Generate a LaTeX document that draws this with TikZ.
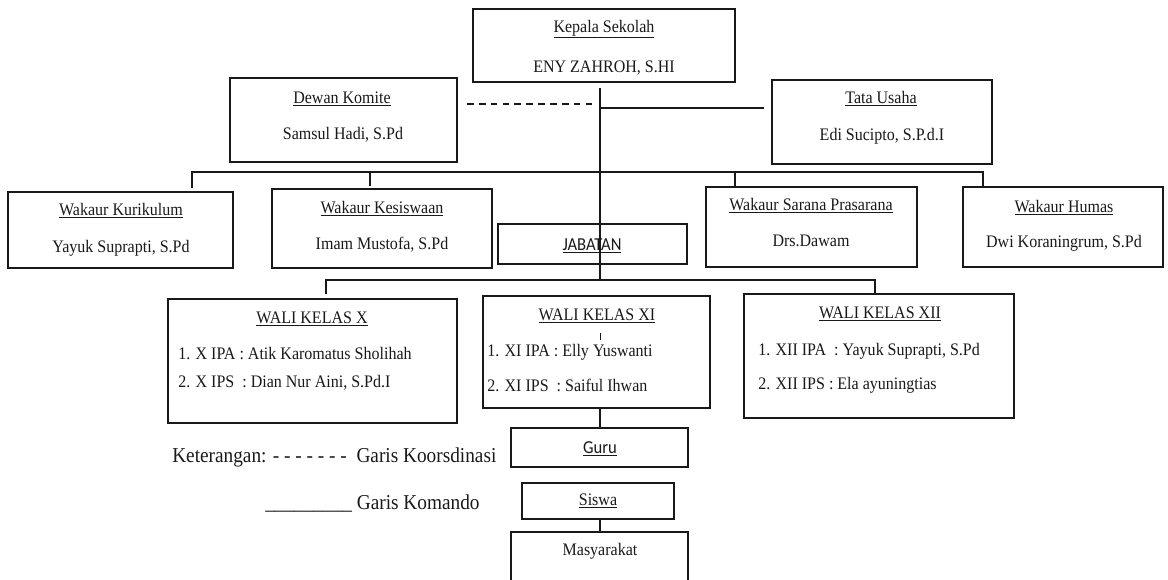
\documentclass[tikz,border=0pt]{standalone}
\usepackage{fontspec}
\setmainfont{Liberation Serif}[FakeStretch=0.91]
\newfontfamily\calibfont{Carlito}[FakeStretch=0.91]
\newcommand\pbox[5]{\node[box, minimum width={(#4-#2)*0.75pt}, minimum height={(#5-#3)*0.75pt}] (#1) at ({(#2+#4)/2},{(#3+#5)/2}) {};}
\begin{document}
\begin{tikzpicture}[x=0.75pt,y=-0.75pt,
  box/.style={draw=black!90, inner sep=0pt, line width=1pt},
  con/.style={draw=black!90, line width=1pt},
  txt/.style={inner sep=0pt, anchor=base, text=black!90, font=\fontsize{13.2}{15}\selectfont},
  lt/.style={txt, anchor=base west},
  sanstxt/.style={txt, font=\calibfont\fontsize{13.7}{15}\selectfont},
  bigtxt/.style={txt, anchor=base west, font=\fontsize{15.9}{18}\selectfont}]
\useasboundingbox (0,0) rectangle (1168,579);
% boxes
\pbox{kep}{473}{9}{735}{82}
\pbox{dew}{230}{78}{457}{162}
\pbox{tat}{772}{80}{992}{164}
\pbox{kur}{8}{192}{233}{268}
\pbox{kes}{272}{189}{492}{268}
\pbox{jab}{498}{224}{687}{264}
\pbox{sar}{706}{187}{917}{267}
\pbox{hum}{963}{187}{1163}{267}
\pbox{wx}{168}{299}{457}{423}
\pbox{wxi}{483}{296}{710}{408}
\pbox{wxii}{744}{294}{1014}{418}
\pbox{guru}{511}{428}{688}{467}
\pbox{sis}{522}{483}{674}{519}
\pbox{mas}{511}{532}{688}{600}
% texts
\node[txt] (kept) at (604,32) {\underline{Kepala Sekolah}};
\node[txt] (kepn) at (604,72) {ENY ZAHROH, S.HI};
\node[txt] (dewt) at (342,103) {\underline{Dewan Komite}};
\node[txt] (dewn) at (343,139) {Samsul Hadi, S.Pd};
\node[txt] (tatt) at (881,103) {\underline{Tata Usaha}};
\node[txt] (tatn) at (882,140) {Edi Sucipto, S.P.d.I};
\node[txt] (kurt) at (121,215) {\underline{Wakaur Kurikulum}};
\node[txt] (kurn) at (121,252) {Yayuk Suprapti, S.Pd};
\node[txt] (kest) at (382,213) {\underline{Wakaur Kesiswaan}};
\node[txt] (kesn) at (382,249) {Imam Mustofa, S.Pd};
\node[txt] (sart) at (811,210) {\underline{Wakaur Sarana Prasarana}};
\node[txt] (sarn) at (811,246) {Drs.Dawam};
\node[txt] (humt) at (1064,212) {\underline{Wakaur Humas}};
\node[txt] (humn) at (1064,247) {Dwi Koraningrum, S.Pd};
\node[sanstxt] (jabt) at (592,250) {\underline{JABATAN}};
\node[txt] (wxt) at (312,323) {\underline{WALI KELAS X}};
\node[lt] (wx1) at (178,359) {1. X IPA : Atik Karomatus Sholihah};
\node[lt] (wx2) at (178,387) {2. X IPS\ \ : Dian Nur Aini, S.Pd.I};
\node[txt] (wxit) at (597,320) {\underline{WALI KELAS XI}};
\node[lt] (wxi1) at (487,356) {1. XI IPA : Elly Yuswanti};
\node[lt] (wxi2) at (487,391) {2. XI IPS\ \ : Saiful Ihwan};
\node[txt] (wxiit) at (880,318) {\underline{WALI KELAS XII}};
\node[lt] (wxii1) at (758,355) {1. XII IPA\ \ : Yayuk Suprapti, S.Pd};
\node[lt] (wxii2) at (758,389) {2. XII IPS : Ela ayuningtias};
\node[sanstxt] (gurut) at (600,453) {\underline{Guru}};
\node[txt] (sist) at (598,505) {\underline{Siswa}};
\node[txt] (mast) at (600,555) {Masyarakat};
\node[bigtxt] (ket1) at (172,462) {Keterangan: - - - - - - -\ \ Garis Koorsdinasi};
\node[bigtxt] (ket2) at (265,509) {\_\_\_\_\_\_\_\_\_ Garis Komando};
% connector points
\coordinate (v0) at (600,88);
\coordinate (v1) at (600,108);
\coordinate (vw) at (600,280);
\coordinate (d0) at (467,104);
\coordinate (d1) at (597,104);
\coordinate (s1) at (764,108);
\coordinate (kurT) at (192,188);
\coordinate (bL) at (192,172);
\coordinate (bR) at (983,172);
\coordinate (humT) at (983,186);
\coordinate (kesB) at (370,172);
\coordinate (kesT) at (370,186);
\coordinate (sarB) at (735,172);
\coordinate (sarT) at (735,187);
\coordinate (wL) at (326,280);
\coordinate (wxT) at (326,294);
\coordinate (wR) at (875,280);
\coordinate (wxiiT) at (875,293);
\coordinate (tk0) at (600,333);
\coordinate (tk1) at (600,340);
% connectors
\draw[con] (v0) -- (vw);
\draw[con, line width=0.8pt, dash pattern=on 5pt off 3.9pt] (d0) -- (d1);
\draw[con] (v1) -- (s1);
\draw[con] (kurT) -- (bL) -- (bR) -- (humT);
\draw[con] (kesB) -- (kesT);
\draw[con] (sarB) -- (sarT);
\draw[con] (wxT) -- (wL) -- (wR) -- (wxiiT);
\draw[con, line width=0.6pt] (tk0) -- (tk1);
\draw[con] (wxi.south -| vw) -- (guru.north -| vw);
\draw[con] (sis.south -| vw) -- (mas.north -| vw);
\end{tikzpicture}
\end{document}
